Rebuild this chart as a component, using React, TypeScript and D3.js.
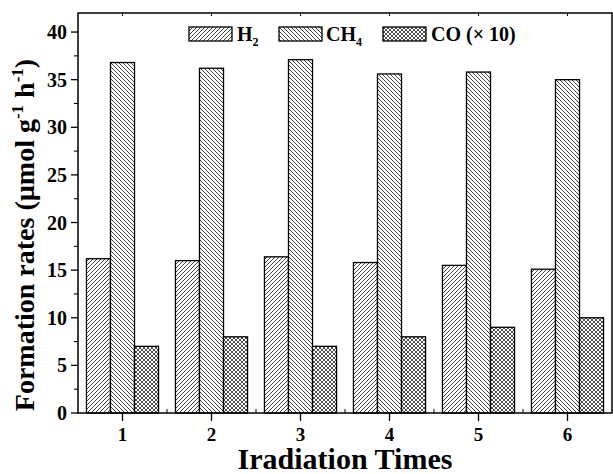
import React from "react";
import * as d3 from "d3";

const categories = ["1", "2", "3", "4", "5", "6"];
const seriesNames = ["H2", "CH4", "CO"];
const h2Values = [16.2, 16.0, 16.4, 15.8, 15.5, 15.1];
const ch4Values = [36.8, 36.2, 37.1, 35.6, 35.8, 35.0];
const coValues = [7, 8, 7, 8, 9, 10];
const yTicks = [0, 5, 10, 15, 20, 25, 30, 35, 40];
const yMinorTicks = [2.5, 7.5, 12.5, 17.5, 22.5, 27.5, 32.5, 37.5];

const W = 613;
const H = 474;
const L = 78;
const R = 612;
const T = 13;
const B = 413;

export default function App() {
  const x = d3
    .scaleBand<string>()
    .domain(categories)
    .range([L, R])
    .paddingInner(0.19)
    .paddingOuter(0.095);
  const xs = d3.scaleBand<string>().domain(seriesNames).range([0, x.bandwidth()]).padding(0);
  const y = d3.scaleLinear().domain([0, 42]).range([B, T]);
  const seriesValues: Record<string, number[]> = { H2: h2Values, CH4: ch4Values, CO: coValues };
  const fills: Record<string, string> = { H2: "url(#pH2)", CH4: "url(#pCH4)", CO: "url(#pCO)" };
  const step = x.step();
  const font = "'Liberation Serif', 'Times New Roman', serif";

  return (
    <svg width={W} height={H} style={{ position: "absolute", left: 0, top: 0 }} fontFamily={font}>
      <defs>
        <pattern id="pH2" width="4" height="4" patternUnits="userSpaceOnUse">
          <rect width="4" height="4" fill="#fff" />
          <path d="M-1,1 l2,-2 M0,4 l4,-4 M3,5 l2,-2" stroke="#222" strokeWidth="0.85" />
        </pattern>
        <pattern id="pCH4" width="4" height="4" patternUnits="userSpaceOnUse">
          <rect width="4" height="4" fill="#fff" />
          <path d="M-1,3 l2,2 M0,0 l4,4 M3,-1 l2,2" stroke="#222" strokeWidth="0.85" />
        </pattern>
        <pattern id="pCO" width="4" height="4" patternUnits="userSpaceOnUse">
          <rect width="4" height="4" fill="#fff" />
          <path d="M-1,1 l2,-2 M0,4 l4,-4 M3,5 l2,-2 M-1,3 l2,2 M0,0 l4,4 M3,-1 l2,2" stroke="#222" strokeWidth="0.8" />
        </pattern>
      </defs>

      {/* bars */}
      {seriesNames.map((s) =>
        categories.map((c, i) => {
          const v = seriesValues[s][i];
          const bx = (x(c) as number) + (xs(s) as number);
          return (
            <rect
              key={s + c}
              x={bx}
              y={y(v)}
              width={xs.bandwidth()}
              height={B - y(v)}
              fill={fills[s]}
              stroke="#000"
              strokeWidth={1.3}
            />
          );
        })
      )}

      {/* frame */}
      <rect x={L} y={T} width={R - L} height={B - T} fill="none" stroke="#000" strokeWidth={1.5} />

      {/* y ticks */}
      {yTicks.map((t) => (
        <g key={"y" + t}>
          <line x1={L - 7} x2={L} y1={y(t)} y2={y(t)} stroke="#000" strokeWidth={1.3} />
          <text x={L - 11} y={y(t)} dy="0.35em" textAnchor="end" fontSize={20} fontWeight="bold">
            {t}
          </text>
        </g>
      ))}
      {yMinorTicks.map((t) => (
        <line key={"ym" + t} x1={L - 4} x2={L} y1={y(t)} y2={y(t)} stroke="#000" strokeWidth={1.1} />
      ))}

      {/* x ticks */}
      {categories.map((c) => {
        const cx = (x(c) as number) + x.bandwidth() / 2;
        return (
          <g key={"x" + c}>
            <line x1={cx} x2={cx} y1={B} y2={B + 8} stroke="#000" strokeWidth={1.3} />
            <line x1={cx} x2={cx} y1={T} y2={T + 3} stroke="#000" strokeWidth={1} />
            <text x={cx} y={B + 28} textAnchor="middle" fontSize={19} fontWeight="bold">
              {c}
            </text>
          </g>
        );
      })}
      {categories.slice(0, -1).map((c) => {
        const mx = (x(c) as number) + x.bandwidth() / 2 + step / 2;
        return <line key={"xm" + c} x1={mx} x2={mx} y1={B} y2={B - 4} stroke="#000" strokeWidth={1} />;
      })}

      {/* axis titles */}
      <text x={(L + R) / 2} y={469} textAnchor="middle" fontSize={30} fontWeight="bold">
        Iradiation Times
      </text>
      <text
        transform={`translate(34, ${(T + B) / 2 + 22}) rotate(-90)`}
        textAnchor="middle"
        fontSize={28}
        fontWeight="bold"
      >
        Formation rates (µmol g
        <tspan dy={-11} fontSize={17}>-1</tspan>
        <tspan dy={11}> h</tspan>
        <tspan dy={-11} fontSize={17}>-1</tspan>
        <tspan dy={11}>)</tspan>
      </text>

      {/* legend */}
      <g>
        <rect x={189} y={27} width={43} height={14} fill="url(#pH2)" stroke="#000" strokeWidth={1.3} />
        <text x={237} y={41} fontSize={20} fontWeight="bold">
          H<tspan dy={5} fontSize={12}>2</tspan>
        </text>
        <rect x={279} y={27} width={43} height={14} fill="url(#pCH4)" stroke="#000" strokeWidth={1.3} />
        <text x={326} y={41} fontSize={20} fontWeight="bold">
          CH<tspan dy={5} fontSize={12}>4</tspan>
        </text>
        <rect x={383} y={27} width={43} height={14} fill="url(#pCO)" stroke="#000" strokeWidth={1.3} />
        <text x={431} y={41} fontSize={20} fontWeight="bold">
          CO (× 10)
        </text>
      </g>
    </svg>
  );
}
